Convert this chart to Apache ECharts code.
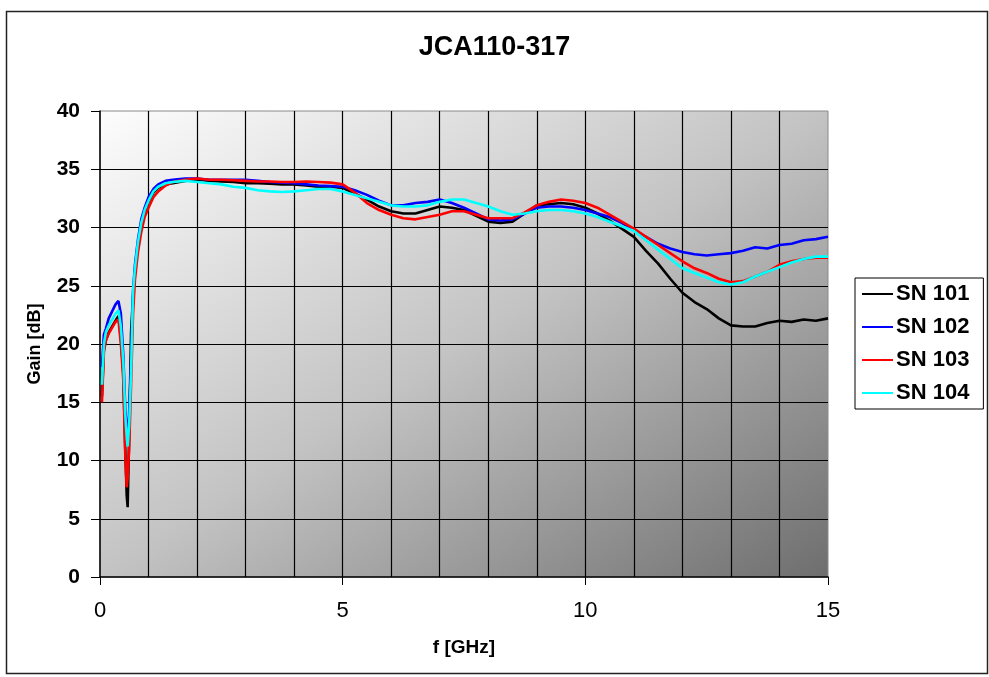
<!DOCTYPE html>
<html>
<head>
<meta charset="utf-8">
<script src="https://cdn.jsdelivr.net/npm/echarts@6/dist/echarts.min.js"></script>
<style>
html,body{margin:0;padding:0;background:#fff;}
#chart{width:989px;height:677px;}
</style>
</head>
<body>
<div id="chart"></div>
<script>
const title = 'JCA110-317';
const xName = 'f [GHz]';
const yName = 'Gain [dB]';
const seriesNames = ['SN 101', 'SN 102', 'SN 103', 'SN 104'];
const seriesColors = ['#000000', '#0000ff', '#ff0000', '#00ffff'];
const xTicks = [0, 5, 10, 15];
const yTicks = [0, 5, 10, 15, 20, 25, 30, 35, 40];

const freq = [0.04,0.08,0.12,0.18,0.25,0.32,0.38,0.43,0.48,0.52,0.55,0.57,0.60,0.64,0.68,0.72,0.78,0.85,0.92,1.0,
  1.1,1.2,1.35,1.5,1.75,2.0,2.25,2.5,2.75,3.0,3.25,3.5,3.75,4.0,4.25,4.5,4.75,5.0,
  5.25,5.5,5.75,6.0,6.25,6.5,6.75,7.0,7.25,7.5,7.75,8.0,8.25,8.5,8.75,9.0,9.25,9.5,9.75,10.0,
  10.25,10.5,10.75,11.0,11.25,11.5,11.75,12.0,12.25,12.5,12.75,13.0,13.25,13.5,13.75,14.0,14.25,14.5,14.75,15.0];

const sn101 = [15.5,19.5,20.3,21.0,21.5,22.0,22.4,20.5,17.5,11.0,7.0,6.0,12.0,21.0,24.0,26.2,28.4,30.2,31.3,32.2,
  33.0,33.4,33.7,33.8,34.0,34.1,34.0,33.95,33.9,33.8,33.8,33.75,33.7,33.7,33.6,33.5,33.5,33.4,
  32.9,32.4,31.8,31.4,31.2,31.2,31.5,31.8,31.7,31.5,31.0,30.5,30.4,30.5,31.2,31.9,32.0,32.1,32.0,31.7,
  31.2,30.6,29.9,29.2,28.0,26.9,25.6,24.4,23.6,23.0,22.2,21.6,21.5,21.5,21.8,22.0,21.9,22.1,22.0,22.2];

const sn102 = [18.0,20.8,21.3,22.2,22.8,23.4,23.7,22.6,19.0,14.5,12.5,12.3,14.0,18.5,24.5,26.8,28.9,30.7,31.7,32.6,
  33.3,33.7,34.0,34.1,34.2,34.2,34.1,34.1,34.1,34.1,34.0,33.9,33.85,33.8,33.7,33.6,33.55,33.5,
  33.2,32.8,32.3,31.9,31.9,32.1,32.2,32.4,32.1,31.7,31.2,30.7,30.6,30.7,31.2,31.7,31.8,31.8,31.7,31.5,
  31.2,30.9,30.4,29.8,29.2,28.6,28.2,27.9,27.7,27.6,27.7,27.8,28.0,28.3,28.2,28.5,28.6,28.9,29.0,29.2];

const sn103 = [15.0,19.3,20.3,20.9,21.4,21.9,22.1,20.0,16.9,10.6,7.7,8.5,11.0,16.5,22.5,25.5,27.8,29.6,30.9,31.7,
  32.6,33.1,33.6,33.9,34.1,34.2,34.1,34.1,34.05,34.0,33.95,33.95,33.9,33.9,33.95,33.9,33.85,33.7,
  33.0,32.1,31.5,31.1,30.8,30.7,30.9,31.1,31.4,31.4,31.1,30.8,30.8,30.8,31.3,31.9,32.2,32.4,32.3,32.1,
  31.7,31.1,30.5,29.9,29.2,28.5,27.8,27.1,26.5,26.1,25.6,25.3,25.4,25.8,26.2,26.8,27.1,27.3,27.4,27.4];

const sn104 = [16.5,20.0,21.0,21.6,22.1,22.6,22.9,21.5,18.5,14.0,12.0,11.2,13.0,17.5,24.5,26.5,28.7,30.4,31.5,32.3,
  33.1,33.5,33.8,33.9,34.0,33.9,33.8,33.7,33.5,33.4,33.2,33.1,33.05,33.1,33.2,33.3,33.3,33.1,
  32.8,32.5,32.2,31.9,31.8,31.8,31.9,32.2,32.4,32.4,32.1,31.8,31.4,31.1,31.2,31.4,31.5,31.5,31.4,31.2,
  30.9,30.5,30.1,29.7,28.9,28.1,27.3,26.5,26.1,25.7,25.3,25.1,25.3,25.8,26.2,26.6,27.0,27.3,27.5,27.5];

const seriesValues = [sn101, sn102, sn103, sn104];
const FONT = '"Liberation Sans", Arial, sans-serif';

const chart = echarts.init(document.getElementById('chart'), null, {renderer: 'canvas'});
chart.setOption({
  animation: false,
  backgroundColor: '#ffffff',
  title: {
    text: title, left: 'center', top: 29,
    textStyle: {fontFamily: FONT, fontSize: 27, fontWeight: 'bold', color: '#000'}
  },
  graphic: [{
    type: 'rect', left: 4, top: 9, z: -1,
    shape: {width: 981, height: 662},
    style: {fill: 'none', stroke: '#222', lineWidth: 1.5}
  }],
  legend: {
    orient: 'vertical', left: 855, top: 278,
    width: 130,
    data: seriesNames,
    padding: [5, 14, 5, 7],
    itemGap: 11, itemWidth: 31, itemHeight: 14,
    borderColor: '#000', borderWidth: 1,
    backgroundColor: '#fff',
    textStyle: {fontFamily: FONT, fontSize: 22, fontWeight: 'bold', color: '#000', padding: [0,0,0,-2]},
    icon: 'path://M0,6 L31,6 L31,8 L0,8 Z'
  },
  grid: {
    left: 100, right: 161, top: 111, bottom: 100,
    show: true, borderColor: '#8a8a8a', borderWidth: 1,
    backgroundColor: {
      type: 'linear', x: 0, y: 0, x2: 0.581, y2: 1.418,
      colorStops: [{offset: 0, color: '#fdfdfd'}, {offset: 0.5, color: '#c3c3c3'}, {offset: 1, color: '#6e6e6e'}]
    }
  },
  xAxis: {
    type: 'value', min: xTicks[0], max: xTicks[xTicks.length - 1], interval: 5,
    name: xName, nameLocation: 'middle', nameGap: 61,
    nameTextStyle: {fontFamily: FONT, fontSize: 19, fontWeight: 'bold', color: '#000'},
    axisLine: {show: true, onZero: false, lineStyle: {color: '#000', width: 1.5}},
    axisTick: {show: true, inside: false, length: 8, lineStyle: {color: '#000', width: 1}},
    axisLabel: {fontFamily: FONT, fontSize: 22, color: '#000', margin: 23},
    splitLine: {show: true, showMinLine: false, showMaxLine: false, lineStyle: {color: '#000', width: 1.2}},
    minorTick: {show: false, splitNumber: 5},
    minorSplitLine: {show: true, lineStyle: {color: '#000', width: 1.2}}
  },
  yAxis: {
    type: 'value', min: yTicks[0], max: yTicks[yTicks.length - 1], interval: 5,
    name: yName, nameLocation: 'middle', nameGap: 56, nameRotate: 90,
    nameTextStyle: {fontFamily: FONT, fontSize: 18, fontWeight: 'bold', color: '#000'},
    axisLine: {show: true, onZero: false, lineStyle: {color: '#000', width: 1.5}},
    axisTick: {show: true, inside: false, length: 9, lineStyle: {color: '#000', width: 1}},
    axisLabel: {fontFamily: FONT, fontSize: 21, fontWeight: 'bold', color: '#000', margin: 20},
    splitLine: {show: true, showMinLine: false, showMaxLine: false, lineStyle: {color: '#000', width: 1.2}}
  },
  series: seriesNames.map((name, i) => ({
    name: name,
    type: 'line',
    symbol: 'none',
    smooth: false,
    clip: true,
    color: seriesColors[i],
    lineStyle: {color: seriesColors[i], width: 2.6},
    data: freq.map((f, j) => [f, seriesValues[i][j]])
  }))
});
</script>
</body>
</html>
